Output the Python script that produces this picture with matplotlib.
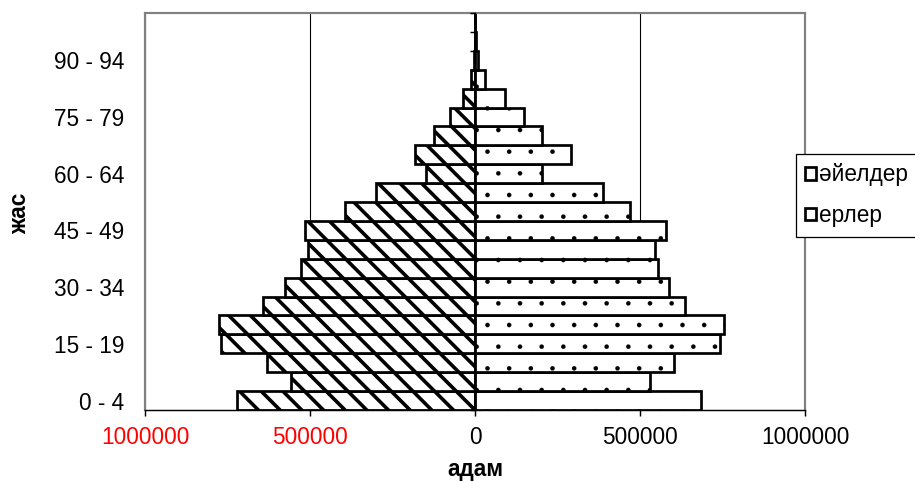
import matplotlib.pyplot as plt
from matplotlib.patches import Patch

# age groups, bottom to top
age_groups = ['0 - 4', '5 - 9', '10 - 14', '15 - 19', '20 - 24', '25 - 29',
              '30 - 34', '35 - 39', '40 - 44', '45 - 49', '50 - 54', '55 - 59',
              '60 - 64', '65 - 69', '70 - 74', '75 - 79', '80 - 84', '85 - 89',
              '90 - 94', '95 - 99', '100 +']
# people per age group
men = [721000, 558000, 629000, 770000, 776000, 643000, 575000, 528000,
       507000, 516000, 395000, 300000, 149000, 183000, 124000, 75000,
       37000, 11000, 3000, 1000, 500]
women = [684000, 529000, 604000, 743000, 755000, 637000, 589000, 554000,
         546000, 579000, 471000, 387000, 204000, 291000, 204000, 149000,
         92000, 30000, 10000, 4000, 1000]

x_ticks = [-1000000, -500000, 0, 500000, 1000000]
x_labels = ['1000000', '500000', '0', '500000', '1000000']

plt.rcParams['font.family'] = ['Liberation Sans', 'DejaVu Sans']
plt.rcParams['font.size'] = 12.5

DPI = 130
fig = plt.figure(figsize=(915 / DPI, 482 / DPI), dpi=DPI)
ax = fig.add_axes([145 / 915, 1 - 410 / 482, 660 / 915, 397 / 482])

pos = list(range(len(age_groups)))

with plt.rc_context({'hatch.linewidth': 2.0}):
    ax.barh(pos, [-v for v in men], height=1.0, color='white',
            edgecolor='black', linewidth=1.5, hatch='\\\\', zorder=2)
with plt.rc_context({'hatch.linewidth': 0.1}):
    ax.barh(pos, women, height=1.0, color='white',
            edgecolor='black', linewidth=1.5, hatch='.', zorder=2)

ax.set_xlim(-1000000, 1000000)
ax.set_ylim(-0.5, len(age_groups) - 0.5)

ax.set_xticks(x_ticks, x_labels)
for lab in ax.get_xticklabels()[:2]:
    lab.set_color('#ff0000')
ax.tick_params(axis='x', direction='out', length=3.5, width=0.8, pad=5.5)

ax.set_yticks(pos[::3], age_groups[::3])
ax.tick_params(axis='y', length=0, pad=11.5)

ax.xaxis.grid(True, color='black', linewidth=0.6)
ax.set_axisbelow(True)

for side in ['left', 'right', 'top']:
    ax.spines[side].set_color('#808080')
    ax.spines[side].set_linewidth(1.2)
ax.spines['bottom'].set_color('black')
ax.spines['bottom'].set_linewidth(0.8)

# value axis crossing at zero, tick marks between categories
mid = ax.secondary_yaxis(0, transform=ax.transData)
mid.set_yticks([p - 0.5 for p in pos] + [len(pos) - 0.5], [])
mid.tick_params(axis='y', direction='out', length=2.8, width=0.8)
mid.spines['left'].set_linewidth(0.8)
mid.set_zorder(5)

fig.text(26 / 915, 1 - 213 / 482, 'жас', rotation=90, rotation_mode='anchor',
         ha='center', va='baseline', fontweight='bold')
fig.text(475 / 915, 1 - 476 / 482, 'адам', ha='center', va='baseline',
         fontweight='bold')

handles = [Patch(facecolor='white', edgecolor='black', linewidth=1.5,
                 hatch='.', label='әйелдер'),
           Patch(facecolor='white', edgecolor='black', linewidth=1.5,
                 hatch='\\\\', label='ерлер')]
leg = fig.legend(handles=handles, loc='upper left',
                 bbox_to_anchor=(796 / 915, 1 - 154 / 482), borderaxespad=0,
                 frameon=True, fancybox=False, edgecolor='black',
                 framealpha=1, handlelength=0.45, handleheight=0.45,
                 handletextpad=0.15, labelspacing=0.78, borderpad=0.42)
leg.get_frame().set_linewidth(0.7)

fig.savefig('out.png', dpi=DPI)
